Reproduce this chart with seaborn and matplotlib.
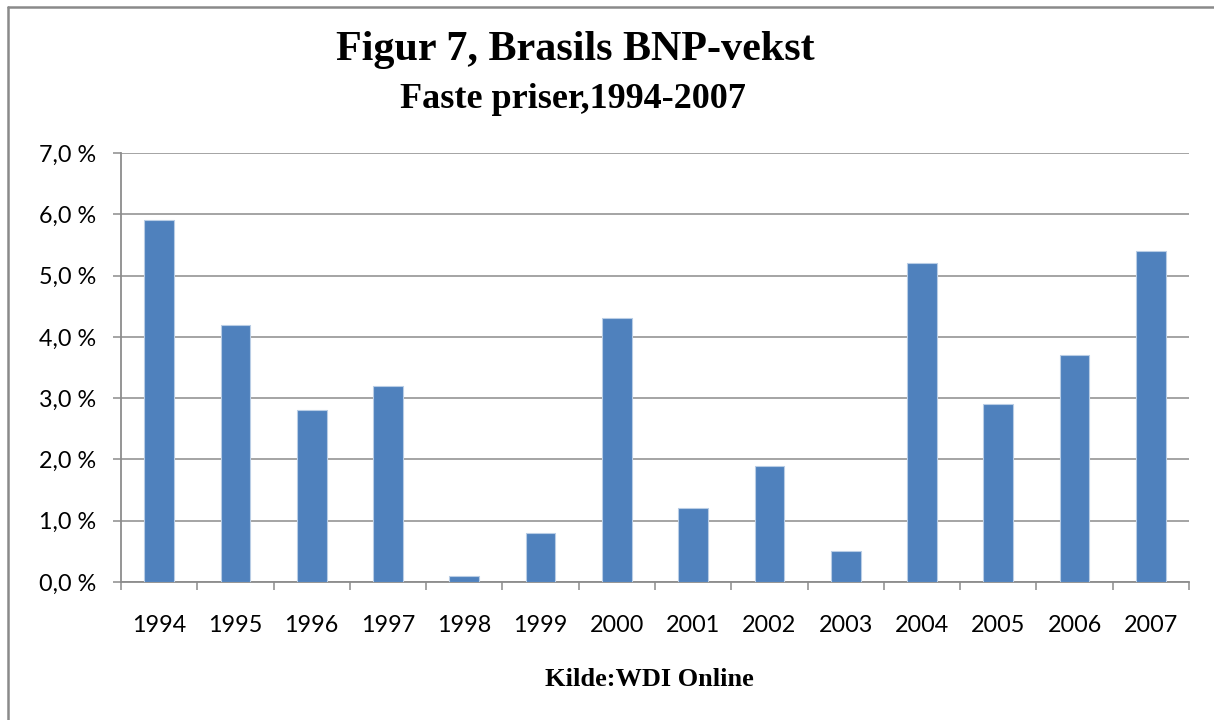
import matplotlib
matplotlib.use("Agg")
import matplotlib.pyplot as plt
import matplotlib.lines as mlines
import seaborn as sns
import pandas as pd
import numpy as np

# Brasils BNP-vekst, faste priser (prosent)
years = ["1994", "1995", "1996", "1997", "1998", "1999", "2000",
         "2001", "2002", "2003", "2004", "2005", "2006", "2007"]
growth = [5.9, 4.2, 2.8, 3.2, 0.1, 0.8, 4.3, 1.2, 1.9, 0.5, 5.2, 2.9, 3.7, 5.4]
y_ticks = [0, 1, 2, 3, 4, 5, 6, 7]

BAR = "#4F81BD"
GRID = "#8C8C8C"

sns.set_theme(style="white")
plt.rcParams["font.family"] = ["Lato", "DejaVu Sans"]
plt.rcParams["text.color"] = "black"

df = pd.DataFrame({"year": years, "growth": growth})

fig = plt.figure(figsize=(12.14, 7.2), dpi=100)
ax = fig.add_axes([121 / 1214, 1 - 582 / 720, (1189 - 121) / 1214, (582 - 153) / 720])

sns.barplot(data=df, x="year", y="growth", color=BAR, width=0.39,
            edgecolor="#B9CDE5", linewidth=0.8, saturation=1, ax=ax, zorder=3)

ax.set_ylim(0, 7)
ax.set_xlim(-0.5, len(years) - 0.5)
ax.set_yticks(y_ticks)
ax.set_yticklabels([f"{v:.1f}".replace(".", ",") + " %" for v in y_ticks])
ax.yaxis.grid(True, color=GRID, linewidth=1.1, zorder=0)
ax.set_axisbelow(True)

# tick marks between categories, labels centred under bars
ax.set_xticks(np.arange(len(years)))
ax.set_xticklabels(years)
ax.set_xticks(np.arange(len(years) + 1) - 0.5, minor=True)
ax.tick_params(axis="x", which="major", length=0, pad=24, labelsize=16.8, labelcolor="black")
ax.tick_params(axis="x", which="minor", bottom=True, length=6, width=1.1, color=GRID)
ax.tick_params(axis="y", left=True, length=6, width=1.1, color=GRID, pad=12,
               labelsize=16.8, labelcolor="black")
ax.set_xlabel("")
ax.set_ylabel("")

for side in ["top", "right"]:
    ax.spines[side].set_visible(False)
for side in ["left", "bottom"]:
    ax.spines[side].set_color(GRID)
    ax.spines[side].set_linewidth(1.3)

fig.text(575 / 1214, 1 - 50 / 720, "Figur 7, Brasils BNP-vekst", ha="center", va="center",
         fontsize=30.3, fontweight="bold", family="Liberation Serif", color="black")
fig.text(573 / 1214, 1 - 99 / 720, "Faste priser,1994-2007", ha="center", va="center",
         fontsize=26, fontweight="bold", family="Liberation Serif", color="black")
fig.text(649 / 1214, 1 - 679 / 720, "Kilde:WDI Online", ha="center", va="center",
         fontsize=19, fontweight="bold", family="Liberation Serif", color="black")

# outer chart frame (only left and top edges visible in the crop)
fig.add_artist(mlines.Line2D([8 / 1214, 8 / 1214], [0, 1 - 7 / 720],
                             color="#8A8A8A", linewidth=1.8, transform=fig.transFigure))
fig.add_artist(mlines.Line2D([8 / 1214, 1], [1 - 7 / 720, 1 - 7 / 720],
                             color="#8A8A8A", linewidth=1.8, transform=fig.transFigure))

fig.savefig("out.png", dpi=100, facecolor="white")
